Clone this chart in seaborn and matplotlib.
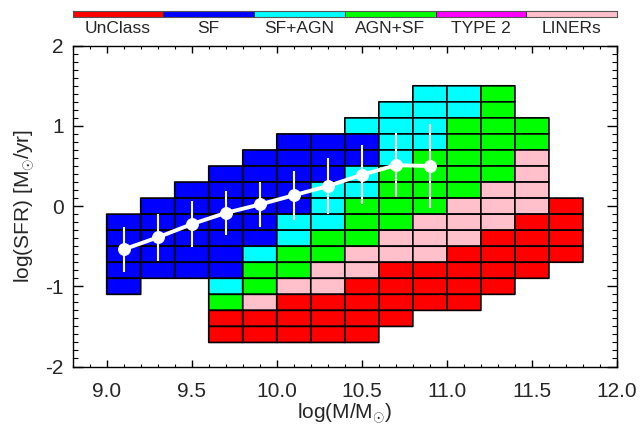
import numpy as np
import pandas as pd
import matplotlib
matplotlib.use("Agg")
import matplotlib.pyplot as plt
from matplotlib.colors import ListedColormap
import seaborn as sns

# classes and their colours (legend order)
class_names = ["UnClass", "SF", "SF+AGN", "AGN+SF", "TYPE 2", "LINERs"]
class_codes = ["U", "S", "C", "G", "T", "L"]
class_colors = ["#ff0000", "#0000ff", "#00ffff", "#00ff00", "#ff00ff", "#ffc0cb"]

# grid of dominant class per (mass, sfr) cell, top row first, "." = empty
mass_centers = [9.1, 9.3, 9.5, 9.7, 9.9, 10.1, 10.3, 10.5, 10.7, 10.9, 11.1, 11.3, 11.5, 11.7]
sfr_centers = [1.4, 1.2, 1.0, 0.8, 0.6, 0.4, 0.2, 0.0, -0.2, -0.4, -0.6, -0.8, -1.0, -1.2, -1.4, -1.6]
grid_rows = [
    ".........CCG..",
    "........CCCG..",
    ".......CCCGGG.",
    ".....SSSCCGGG.",
    "....SSSSCGGGL.",
    "...SSSSCGGGGL.",
    "..SSSSCCGGGLL.",
    ".SSSSSCGGGLLLU",
    "SSSSSCCGGLLLUU",
    "SSSSSCGGLLLUUU",
    "SSSSCGGLLLUUUU",
    "SSSSGGLLUUUUU.",
    "S..CGLLUUUUU..",
    "...GLUUUUUU...",
    "...UUUUUU.....",
    "...UUUUU......",
]

# median SFR for SF galaxies per mass bin
sf_mass = [9.1, 9.3, 9.5, 9.7, 9.9, 10.1, 10.3, 10.5, 10.7, 10.9]
sf_sfr = [-0.54, -0.39, -0.225, -0.085, 0.02, 0.135, 0.25, 0.39, 0.51, 0.50]
sf_err = [0.285, 0.29, 0.285, 0.275, 0.285, 0.305, 0.35, 0.37, 0.40, 0.52]

sns.set_style("ticks")
plt.rcParams["font.family"] = ["Liberation Sans", "DejaVu Sans"]
plt.rcParams["mathtext.fontset"] = "custom"
plt.rcParams["mathtext.rm"] = "Liberation Sans"
plt.rcParams["mathtext.it"] = "Liberation Sans"

fig = plt.figure(figsize=(6.42, 4.25), dpi=100)
ax = fig.add_axes([0.1132, 0.1376, 0.8478, 0.7549])

cmap = ListedColormap(class_colors)
vals = np.array([[class_codes.index(ch) if ch != "." else np.nan for ch in row] for row in grid_rows])
vals = np.ma.masked_invalid(vals)
mc = np.array(mass_centers)
sc = np.array(sfr_centers)
x_edges = np.append(mc - 0.1, mc[-1] + 0.1)
y_edges = np.append(sc + 0.1, sc[-1] - 0.1)
ax.pcolor(x_edges, y_edges, vals, cmap=cmap, vmin=-0.5, vmax=5.5,
          edgecolors="black", linewidth=1.2, zorder=1)

df = pd.DataFrame({"mass": sf_mass, "sfr": sf_sfr, "err": sf_err})
ax.errorbar(df["mass"], df["sfr"], yerr=df["err"], fmt="none", ecolor="white",
            elinewidth=1.5, capsize=0, zorder=3)
sns.lineplot(data=df, x="mass", y="sfr", color="white", lw=2.8, marker="o",
             markersize=8.5, markeredgecolor="white", ax=ax, zorder=4)

ax.set_xlim(8.8, 12.0)
ax.set_ylim(-2.0, 2.0)
ax.set_xticks([9.0, 9.5, 10.0, 10.5, 11.0, 11.5, 12.0])
ax.set_xticklabels(["9.0", "9.5", "10.0", "10.5", "11.0", "11.5", "12.0"])
ax.set_yticks([-2, -1, 0, 1, 2])
ax.set_yticklabels(["-2", "-1", "0", "1", "2"])
ax.set_xticks(np.arange(8.8, 12.01, 0.1), minor=True)
ax.set_yticks(np.arange(-2.0, 2.01, 0.1), minor=True)
ax.tick_params(axis="both", which="both", direction="in", top=True, right=True,
               color="black", labelsize=15)
ax.tick_params(axis="x", which="major", length=5, width=1, pad=11)
ax.tick_params(axis="x", which="minor", length=2.5, width=0.8)
ax.tick_params(axis="y", which="major", length=7.5, width=1, pad=6.5)
ax.tick_params(axis="y", which="minor", length=3.7, width=0.8)
for s in ax.spines.values():
    s.set_linewidth(1.0)
    s.set_color("black")
ax.set_xlabel(r"log(M/M$_{\odot}$)", fontsize=15, labelpad=0.5)
ax.set_ylabel(r"log(SFR) [M$_{\odot}$/yr]", fontsize=15, labelpad=6)

# colour bar legend on top
cax = fig.add_axes([0.1132, 0.9593, 0.8478, 0.0148])
cax.pcolormesh(np.arange(len(class_names) + 1), [0, 1], np.arange(len(class_names))[None, :],
               cmap=cmap, vmin=-0.5, vmax=5.5, edgecolors="#333333", linewidth=0.6)
cax.set_xlim(0, len(class_names))
cax.set_ylim(0, 1)
cax.set_xticks([])
cax.set_yticks([])
for s in cax.spines.values():
    s.set_color("#555555")
    s.set_linewidth(0.8)
for i, name in enumerate(class_names):
    fig.text(0.1132 + 0.8478 * (i + 0.5) / len(class_names), 0.934, name,
             ha="center", va="center", fontsize=12.5)

fig.savefig("out.png", dpi=100)
